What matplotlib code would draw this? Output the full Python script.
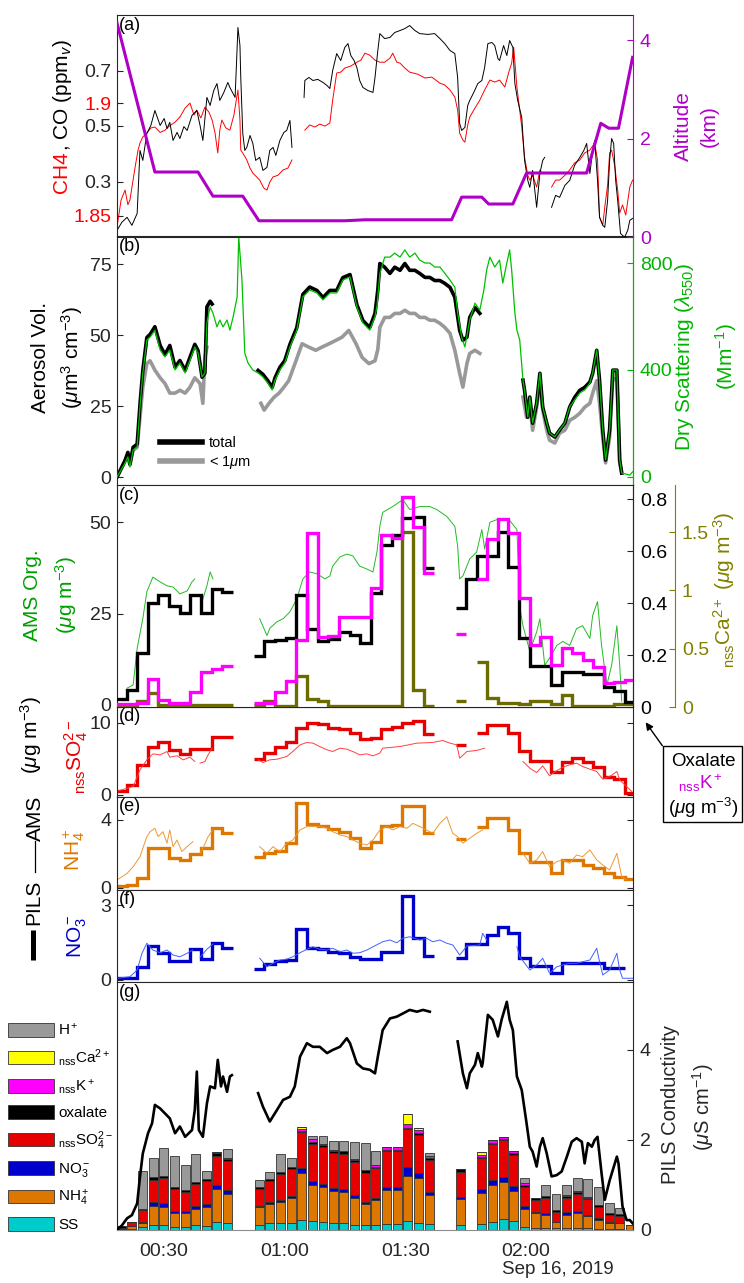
import numpy as np
import matplotlib
matplotlib.use("Agg")
import matplotlib.pyplot as plt
from matplotlib.lines import Line2D
from matplotlib.patches import Rectangle

plt.rcParams.update({
    "font.family": ["Liberation Sans", "DejaVu Sans"],
    "mathtext.fontset": "custom",
    "mathtext.rm": "Liberation Sans",
    "mathtext.it": "Liberation Sans:italic",
    "mathtext.bf": "Liberation Sans:bold",
    "axes.linewidth": 0.8,
})

nan = np.nan

# ---------------- time axis (minutes after 00:00, Sep 16 2019) ----------------
t_start, t_end = 18.5, 146.5
tick_minutes = [30, 60, 90, 120]
tick_labels = ["00:30", "01:00", "01:30", "02:00"]

# ---------------- (a) trace gases and altitude ----------------
co_ppm = np.array([
    [18.5, 0.124], [19.7, 0.153], [21.0, 0.171], [22.2, 0.142], [23.5, 0.185], [24.2, 0.412], [24.9, 0.376],
    [25.9, 0.473], [26.9, 0.502], [27.9, 0.556], [29.2, 0.502], [30.2, 0.527], [30.9, 0.491], [31.6, 0.513],
    [32.4, 0.448], [33.4, 0.477], [34.1, 0.455], [35.1, 0.498], [35.9, 0.484], [37.1, 0.538], [38.3, 0.556],
    [39.1, 0.502], [39.8, 0.448], [40.8, 0.603], [41.6, 0.574], [42.5, 0.628], [43.3, 0.653], [44.0, 0.592],
    [45.0, 0.621], [46.0, 0.657], [46.5, 0.639], [47.8, 0.603], [48.5, 0.855], [49.0, 0.790], [49.2, 0.675],
    [49.7, 0.473], [50.2, 0.412], [50.7, 0.423], [51.5, 0.466], [52.2, 0.437], [52.9, 0.376], [53.9, 0.387],
    [54.7, 0.340], [55.7, 0.351], [56.4, 0.412], [57.2, 0.423], [57.9, 0.394], [58.9, 0.448], [59.9, 0.477],
    [60.6, 0.484], [61.4, 0.520], [61.9, 0.423],
    [nan, nan],
    [64.9, 0.603], [65.1, 0.664], [66.1, 0.675], [67.1, 0.664], [68.3, 0.668], [69.6, 0.657], [70.6, 0.646],
    [71.3, 0.635], [72.0, 0.700], [73.0, 0.761], [74.0, 0.736], [75.0, 0.783], [75.8, 0.797], [76.5, 0.754],
    [77.3, 0.736], [78.0, 0.711], [78.7, 0.664], [79.5, 0.639], [80.7, 0.628], [82.0, 0.621], [82.5, 0.675],
    [83.2, 0.772], [83.7, 0.833], [84.9, 0.815], [86.2, 0.819], [87.4, 0.837], [88.7, 0.844], [89.9, 0.851],
    [91.1, 0.862], [92.4, 0.844], [93.6, 0.833], [95.6, 0.830], [97.3, 0.833], [98.6, 0.815], [99.8, 0.797],
    [101.1, 0.772], [102.3, 0.761], [103.0, 0.675], [103.5, 0.509], [104.0, 0.484], [104.8, 0.495],
    [105.5, 0.574], [106.0, 0.592], [107.0, 0.621], [108.0, 0.653], [109.0, 0.664], [109.7, 0.711],
    [110.5, 0.797], [111.5, 0.801], [112.2, 0.790], [113.0, 0.743], [113.4, 0.736], [114.4, 0.790],
    [115.2, 0.754], [115.9, 0.808], [116.7, 0.783], [117.2, 0.653], [117.9, 0.592], [118.9, 0.531],
    [119.6, 0.376], [120.4, 0.304], [120.9, 0.279], [121.6, 0.340], [122.6, 0.207], [123.4, 0.329],
    [124.1, 0.376], [124.6, 0.387],
    [nan, nan],
    [126.3, 0.207], [127.3, 0.250], [128.3, 0.243], [129.6, 0.286], [130.8, 0.304], [132.0, 0.358],
    [133.3, 0.387], [134.3, 0.412], [135.0, 0.437], [135.8, 0.329], [136.5, 0.412], [137.0, 0.448],
    [137.7, 0.304], [138.2, 0.171], [139.0, 0.142], [139.5, 0.135], [140.2, 0.232], [140.7, 0.376],
    [141.2, 0.455], [141.7, 0.437], [142.2, 0.304], [142.7, 0.232], [143.4, 0.113], [144.4, 0.099],
    [145.2, 0.124], [145.7, 0.160], [146.4, 0.167]])

ch4_ppm = np.array([
    [18.5, 1.845], [19.5, 1.857], [20.5, 1.8615], [21.2, 1.855], [21.7, 1.857], [22.5, 1.866], [23.0, 1.8717],
    [23.7, 1.879], [24.2, 1.8823], [24.9, 1.885], [25.9, 1.8867], [26.9, 1.889], [27.9, 1.8894], [29.2, 1.887],
    [30.4, 1.888], [31.6, 1.890], [32.9, 1.8916], [34.1, 1.8938], [35.4, 1.8978], [36.6, 1.900], [37.6, 1.8947],
    [38.3, 1.8969], [39.3, 1.8934], [40.3, 1.8982], [41.3, 1.896], [42.1, 1.8925], [42.8, 1.887], [43.5, 1.8779],
    [44.0, 1.888], [44.5, 1.8925], [45.5, 1.889], [46.5, 1.888], [47.5, 1.8947], [48.5, 1.9058], [49.0, 1.8925],
    [49.2, 1.8792], [50.0, 1.877], [50.7, 1.8748], [51.5, 1.8712], [52.2, 1.869], [52.9, 1.8677], [53.9, 1.8659],
    [54.9, 1.8624], [55.7, 1.8615], [56.4, 1.865], [57.2, 1.8673], [58.4, 1.868], [59.7, 1.8704], [60.9, 1.8712],
    [61.9, 1.8748],
    [nan, nan],
    [65.1, 1.888], [66.3, 1.8903], [67.6, 1.8894], [68.8, 1.8907], [70.1, 1.8898], [71.3, 1.8912], [72.0, 1.9013],
    [73.0, 1.9133], [74.0, 1.9137], [75.0, 1.9155], [76.5, 1.9164], [78.0, 1.9181], [79.0, 1.919], [80.0, 1.9221],
    [81.2, 1.9212], [82.5, 1.919], [83.7, 1.9181], [84.9, 1.9181], [86.2, 1.9199], [86.9, 1.9221], [87.9, 1.9181],
    [88.7, 1.9177], [89.9, 1.9155], [91.1, 1.9137], [93.1, 1.9128], [94.9, 1.9111], [96.6, 1.9115], [98.6, 1.9088],
    [99.8, 1.908], [101.1, 1.9058], [102.3, 1.9027], [103.0, 1.8969], [103.5, 1.8867], [104.3, 1.8836],
    [104.8, 1.8827], [105.5, 1.8903], [106.0, 1.8938], [107.3, 1.8978], [108.5, 1.9013], [109.7, 1.9058],
    [111.0, 1.9102], [112.2, 1.9093], [113.4, 1.9102], [114.7, 1.9071], [115.7, 1.9137], [116.4, 1.9177],
    [116.9, 1.9248], [117.7, 1.9071], [118.4, 1.8969], [118.9, 1.8894], [119.6, 1.8761], [120.4, 1.868],
    [120.9, 1.8659], [121.6, 1.868], [122.6, 1.8628], [123.4, 1.8704], [123.9, 1.869],
    [nan, nan],
    [126.3, 1.8628], [127.3, 1.8659], [128.3, 1.8659], [129.6, 1.868], [130.8, 1.8704], [132.0, 1.8735],
    [133.3, 1.8748], [134.5, 1.8779], [135.8, 1.8792], [137.0, 1.8823], [137.7, 1.8748], [138.2, 1.8496],
    [139.0, 1.846], [139.5, 1.854], [140.2, 1.8637], [140.7, 1.8779], [141.2, 1.8792], [142.0, 1.8717],
    [142.7, 1.8615], [143.2, 1.8513], [143.9, 1.8549], [144.7, 1.8504], [145.7, 1.8628], [146.4, 1.8659]])

altitude_km = np.array([
    [18.5, 4.35], [27.9, 1.32], [38.6, 1.32], [42.3, 0.83], [49.7, 0.83], [53.7, 0.33], [75.0, 0.33],
    [80.0, 0.35], [101.5, 0.35], [104.0, 0.81], [109.0, 0.81], [110.7, 0.67], [116.7, 0.67], [120.1, 1.30],
    [135.0, 1.30], [138.5, 2.31], [140.5, 2.21], [142.9, 2.21], [146.4, 3.65]])

# ---------------- (b) aerosol volume and dry scattering ----------------
scattering = np.array([
    [18.5, 0], [20.5, 52], [21.2, 75], [21.7, 37], [22.5, 101], [23.5, 112], [24.2, 262], [24.9, 389],
    [25.9, 512], [26.7, 523], [27.9, 549], [29.2, 475], [30.4, 449], [31.6, 475], [32.9, 400], [34.1, 426],
    [35.4, 389], [36.6, 437], [37.8, 486], [38.6, 463], [39.6, 374], [40.3, 389], [40.8, 576], [41.6, 636],
    [42.3, 613], [43.3, 561], [44.0, 587], [44.8, 561], [45.8, 587], [46.5, 549], [47.3, 598], [48.3, 673],
    [48.7, 897], [49.5, 736], [50.2, 463], [51.0, 426], [52.2, 400], [53.5, 389], [54.7, 374], [55.9, 351],
    [57.0, 325], [57.7, 363], [58.9, 400], [60.1, 426], [61.4, 486], [63.1, 549], [64.6, 673], [66.3, 699],
    [68.1, 688], [69.6, 662], [71.3, 688], [73.0, 688], [74.5, 736], [76.3, 748], [78.0, 636], [79.5, 576],
    [81.2, 549], [82.5, 600], [83.0, 640], [83.7, 760], [84.9, 822], [86.2, 822], [87.4, 837], [88.7, 822],
    [89.9, 849], [91.1, 822], [92.4, 837], [93.6, 811], [94.9, 800], [96.1, 800], [97.3, 785], [98.6, 785],
    [99.8, 762], [101.1, 736], [102.3, 710], [103.0, 613], [104.0, 523], [104.8, 486], [106.0, 587],
    [107.3, 650], [108.5, 624], [109.5, 699], [110.2, 774], [111.0, 822], [112.2, 785], [113.4, 811],
    [114.2, 725], [115.2, 800], [115.9, 849], [116.4, 774], [117.2, 613], [117.7, 549], [118.4, 512],
    [119.2, 363], [119.6, 325], [120.4, 224], [120.9, 299], [121.6, 202], [122.6, 277], [123.4, 389],
    [124.1, 262], [125.1, 202], [125.8, 164], [127.1, 150], [128.3, 176], [129.6, 202], [130.8, 262],
    [132.0, 288], [133.3, 314], [134.5, 325], [135.8, 351], [136.5, 389], [137.5, 475], [138.2, 363],
    [139.0, 176], [139.7, 64], [140.7, 176], [141.5, 400], [142.5, 400], [143.2, 64], [143.7, 15],
    [145.7, 7], [146.4, 19]])

volume_total = np.array([
    [18.5, 0], [20.5, 5.9], [21.2, 8.7], [21.7, 4.5], [22.5, 10.5], [23.5, 11.6], [24.2, 25.6], [24.9, 37.6],
    [25.9, 49.2], [26.7, 50.3], [27.9, 53.0], [29.2, 46.4], [30.4, 43.2], [31.6, 46.4], [32.9, 38.7],
    [34.1, 41.1], [35.4, 37.6], [36.6, 42.2], [37.8, 46.8], [38.6, 44.6], [39.6, 35.2], [40.3, 36.6],
    [40.8, 60.0], [41.6, 62.0], [42.1, 61.0],
    [nan, nan],
    [53.5, 37.6], [54.7, 36.2], [55.9, 34.0], [57.0, 31.6], [57.7, 35.0], [58.9, 38.7], [60.1, 41.0],
    [61.4, 46.8], [63.1, 52.7], [64.6, 64.4], [66.3, 67.0], [68.1, 65.8], [69.6, 63.3], [71.3, 65.8],
    [73.0, 65.8], [74.5, 70.3], [76.3, 71.4], [78.0, 60.8], [79.5, 55.2], [81.2, 52.7], [82.5, 57.7],
    [83.2, 66.0], [83.7, 75.3], [84.9, 74.0], [86.2, 71.8], [87.4, 74.0], [88.7, 72.9], [89.9, 75.3],
    [91.1, 72.9], [92.4, 72.9], [93.6, 71.8], [94.9, 70.4], [96.1, 70.4], [97.3, 69.3], [98.6, 69.3],
    [99.8, 68.3], [101.1, 66.9], [102.3, 63.4], [103.5, 51.7], [104.3, 48.2], [105.3, 49.3], [106.0, 56.3],
    [107.3, 59.8], [108.5, 57.7],
    [nan, nan],
    [119.2, 34.2], [119.6, 30.6], [120.4, 21.1], [120.9, 28.2], [121.6, 19.0], [122.6, 26.0], [123.4, 36.6],
    [124.1, 24.7], [125.1, 19.0], [125.8, 15.5], [127.1, 14.1], [128.3, 16.6], [129.6, 19.0], [130.8, 24.7],
    [132.0, 28.0], [133.3, 30.6], [134.5, 31.6], [135.8, 33.5], [136.5, 36.6], [137.5, 44.7], [138.2, 34.2],
    [139.0, 16.6], [139.7, 6.0], [140.7, 16.6], [141.5, 37.7], [142.5, 37.7], [143.2, 6.0], [143.7, 1.4]])

volume_sub1um = np.array([
    [18.5, 0], [20.5, 5.5], [21.2, 8.0], [21.7, 4.3], [22.5, 9.5], [23.5, 10.5], [24.2, 21.0], [24.9, 31.7],
    [25.9, 40.0], [26.7, 41.0], [27.9, 37.7], [29.2, 35.0], [30.4, 33.0], [31.6, 29.6], [32.9, 29.6],
    [34.1, 30.6], [35.4, 29.6], [36.6, 31.7], [37.8, 35.0], [39.1, 33.0], [39.8, 26.0], [40.3, 42.0],
    [40.8, 45.8],
    [nan, nan],
    [54.2, 26.0], [55.0, 23.6], [56.2, 26.0], [57.5, 28.2], [58.7, 29.6], [59.9, 31.7], [61.1, 34.0],
    [62.9, 41.0], [64.4, 47.0], [66.1, 45.8], [67.8, 44.7], [69.3, 45.8], [71.1, 47.0], [72.8, 48.2],
    [74.3, 49.3], [76.0, 51.7], [77.8, 47.0], [79.3, 42.2], [81.0, 40.0], [82.5, 41.0], [83.2, 45.0],
    [83.7, 52.8], [84.9, 56.3], [86.2, 56.3], [87.4, 57.7], [88.7, 57.7], [89.9, 58.8], [91.1, 57.7],
    [92.4, 57.7], [93.6, 56.3], [94.9, 56.3], [96.1, 55.3], [97.3, 55.3], [98.6, 54.2], [99.8, 52.8],
    [101.1, 50.7], [102.3, 44.7], [103.5, 36.6], [104.3, 31.7], [105.3, 40.0], [106.0, 43.6], [107.3, 44.7],
    [108.5, 43.6],
    [nan, nan],
    [119.2, 28.2], [120.1, 21.0], [120.9, 26.0], [121.6, 16.5], [122.6, 24.6], [123.4, 34.0], [124.1, 23.6],
    [125.1, 16.5], [125.8, 13.0], [127.1, 12.0], [128.3, 15.5], [129.6, 16.5], [130.8, 20.0], [132.0, 21.0],
    [133.3, 22.5], [134.5, 24.6], [135.8, 26.0], [136.5, 29.6], [137.5, 34.0], [138.2, 26.0], [139.0, 14.0],
    [139.7, 5.0], [140.7, 14.0], [141.5, 35.0], [142.5, 34.0], [143.2, 5.0], [143.7, 1.4]])

# ---------------- (c)-(f) AMS mass concentrations ----------------
ams_org = np.array([
    [21.0, 4.6], [22.5, 5.5], [23.5, 15.5], [24.9, 23.6], [25.9, 31.0], [27.4, 35.0], [29.2, 33.7],
    [30.9, 32.6], [32.4, 32.3], [34.1, 30.4], [35.9, 31.2], [37.1, 33.7], [37.8, 34.5],
    [nan, nan],
    [39.6, 28.3], [40.8, 32.6], [41.6, 36.4], [42.3, 34.5],
    [nan, nan],
    [53.9, 23.6], [55.7, 19.0], [56.4, 21.0], [58.2, 22.8], [59.7, 23.6], [61.4, 25.5], [63.1, 29.0],
    [64.6, 34.5], [66.3, 36.4], [68.1, 35.9], [70.1, 34.5], [71.3, 35.3], [72.0, 38.0], [73.8, 40.5],
    [75.5, 41.3], [77.0, 40.8], [78.7, 38.0], [80.5, 37.2], [82.0, 36.4], [83.0, 42.0], [83.7, 48.9],
    [84.4, 52.7], [86.9, 54.3], [89.4, 56.2], [91.1, 53.5], [93.6, 54.3], [96.1, 54.3], [97.8, 53.5],
    [100.3, 51.6], [102.3, 48.9], [103.0, 43.5], [103.5, 34.5], [104.3, 35.3], [106.0, 40.0], [107.7, 41.8],
    [109.0, 48.0], [109.7, 42.7], [111.0, 50.0], [113.4, 51.0], [115.9, 50.5], [117.7, 48.0], [118.4, 27.0],
    [119.2, 21.7], [120.9, 14.7], [122.6, 20.0], [123.4, 23.6], [124.6, 10.9], [125.8, 12.8], [127.6, 16.3],
    [129.1, 17.4], [130.8, 16.3], [132.5, 20.9], [134.0, 21.7], [135.8, 18.2], [136.5, 24.5], [137.7, 28.3],
    [138.7, 16.3], [140.0, 5.4], [141.2, 10.9], [142.5, 21.7], [143.2, 10.9], [143.7, 1.1]])

ams_so4 = np.array([
    [18.5, 0.5], [22.5, 1.16], [24.2, 3.47], [25.9, 4.86], [27.4, 5.69], [29.2, 5.55], [30.9, 6.02],
    [31.6, 5.23], [33.4, 5.42], [34.9, 4.86], [36.6, 5.23], [37.8, 4.63],
    [nan, nan],
    [39.1, 4.40], [40.3, 4.63], [41.1, 5.55], [42.1, 6.48],
    [nan, nan],
    [53.5, 4.86], [54.7, 4.49], [56.4, 4.86], [58.2, 4.95], [60.6, 5.32], [62.1, 6.02], [63.9, 6.94],
    [65.6, 7.27], [67.1, 7.18], [68.8, 6.71], [70.6, 6.25], [72.0, 6.02], [73.8, 6.48], [75.5, 6.34],
    [77.0, 6.02], [78.7, 5.55], [80.5, 5.69], [82.0, 5.42], [83.7, 5.79], [84.4, 6.48], [88.7, 6.71],
    [92.9, 7.18], [96.8, 7.27], [99.3, 7.55], [101.1, 7.18], [102.8, 6.94], [103.5, 5.09], [105.3, 6.02],
    [107.7, 6.16], [109.7, 6.48],
    [nan, nan],
    [119.2, 4.63], [120.9, 3.70], [122.6, 3.10], [124.1, 4.03], [125.8, 2.64], [127.6, 3.38], [129.1, 3.84],
    [130.8, 4.17], [132.5, 4.40], [134.0, 3.94], [135.8, 3.56], [137.5, 3.24], [139.0, 2.18], [140.7, 2.55],
    [142.5, 3.24], [143.2, 2.08], [144.9, 1.16], [146.2, 0.46]])

ams_nh4 = np.array([
    [18.5, 0.47], [21.0, 0.86], [22.5, 1.25], [24.2, 1.84], [25.9, 3.02], [26.7, 3.31], [27.9, 3.51],
    [28.7, 3.02], [29.9, 3.31], [30.9, 2.63], [31.6, 3.41], [32.4, 2.43], [33.4, 2.82], [34.6, 2.14],
    [35.9, 2.43], [37.3, 2.72],
    [nan, nan],
    [39.1, 2.04], [39.8, 2.33], [41.1, 3.02], [42.3, 3.41],
    [nan, nan],
    [53.9, 2.43], [55.7, 2.04], [57.2, 2.43], [58.9, 2.14], [60.6, 2.63], [62.1, 2.82], [63.9, 3.41],
    [65.6, 3.61], [67.1, 3.61], [68.8, 3.61], [70.6, 3.51], [72.0, 3.31], [73.8, 3.12], [75.5, 3.02],
    [77.0, 2.82], [78.7, 2.63], [80.5, 2.53], [82.0, 2.82], [83.7, 3.41], [85.4, 3.61], [86.9, 3.41],
    [88.7, 3.61], [90.4, 3.51], [91.9, 3.80], [93.6, 3.61], [95.3, 3.41], [96.8, 3.21], [98.6, 3.80],
    [100.3, 4.19], [101.8, 3.21], [103.0, 3.02], [104.3, 2.63], [106.0, 2.92], [107.7, 3.21], [109.2, 3.41],
    [nan, nan],
    [119.2, 2.04], [120.9, 1.45], [122.6, 1.65], [124.1, 2.14], [125.8, 1.25], [127.6, 1.55], [129.1, 1.65],
    [130.8, 1.45], [132.5, 1.94], [134.0, 1.84], [135.8, 2.24], [137.5, 1.65], [139.0, 1.35], [140.7, 1.06],
    [142.5, 2.04], [143.7, 0.67], [144.9, 0.47]])

ams_no3 = np.array([
    [18.5, 0.07], [21.7, 0.13], [23.5, 0.40], [24.7, 1.07], [25.9, 1.47], [27.4, 1.20], [29.2, 1.09],
    [30.9, 1.20], [32.4, 1.00], [34.1, 0.93], [35.9, 1.07], [37.3, 1.20],
    [nan, nan],
    [39.1, 0.91], [40.8, 1.23], [42.3, 1.44],
    [nan, nan],
    [53.9, 0.87], [55.7, 0.53], [57.2, 0.67], [58.9, 0.80], [60.6, 0.83], [62.1, 0.93], [63.9, 1.09],
    [65.6, 1.23], [67.1, 1.33], [68.8, 1.23], [70.6, 1.20], [72.0, 1.27], [73.8, 1.13], [75.5, 1.20],
    [77.0, 1.07], [78.7, 1.09], [80.5, 1.20], [82.0, 1.33], [83.7, 1.47], [84.4, 1.53], [86.2, 1.60],
    [87.9, 1.49], [89.4, 1.67], [91.1, 1.73], [93.6, 1.60], [95.3, 1.67], [96.8, 1.53], [98.6, 1.60],
    [100.3, 1.47], [101.8, 1.40], [103.5, 1.00], [105.3, 1.36], [108.5, 1.40], [109.2, 1.87], [110.2, 1.60],
    [nan, nan],
    [117.7, 1.33], [118.4, 0.93], [120.9, 0.40], [122.6, 0.60], [124.1, 0.87], [125.8, 0.27], [127.6, 0.53],
    [129.1, 0.60], [130.8, 0.67], [132.5, 0.67], [134.0, 0.73], [135.8, 0.80], [137.5, 1.27], [138.2, 0.73],
    [139.0, 0.20], [140.7, 0.40], [142.5, 1.07], [143.2, 0.40], [143.9, 0.07], [146.4, 0.07]])

# ---------------- PILS samples (one per collection interval) ----------------
pils_time = [19.6, 22.2, 24.9, 27.5, 30.1, 32.8, 35.4, 38.0, 40.6, 43.3, 45.9, 48.5, 51.2, 53.8, 56.4,
             59.1, 61.7, 64.3, 67.0, 69.6, 72.2, 74.8, 77.5, 80.1, 82.7, 85.4, 88.0, 90.6, 93.2, 95.9,
             98.5, 101.1, 103.8, 106.4, 109.0, 111.6, 114.3, 116.9, 119.5, 122.2, 124.8, 127.4, 130.1,
             132.7, 135.3, 137.9, 140.6, 143.2, 145.8]
pils_halfwidth = 1.315

# mass concentrations, ug m-3
pils_oxalate = [0.03, 0.065, 0.206, 0.399, 0.431, 0.388, 0.363, 0.431, 0.363, 0.453, 0.444, nan, nan,
                0.196, 0.254, 0.258, 0.264, 0.431, 0.299, 0.254, 0.26, 0.29, 0.277, 0.247, 0.437, 0.623,
                0.66, 0.726, 0.73, 0.533, nan, nan, 0.382, 0.491, 0.581, 0.581, 0.674, 0.537, 0.264,
                0.159, 0.159, 0.085, 0.136, 0.136, 0.127, 0.127, 0.078, 0.063, 0.02]
pils_k = [0.01, 0.01, 0.015, 0.106, 0.027, 0.015, 0.015, 0.058, 0.136, 0.146, 0.158, nan, nan,
          0.015, 0.015, 0.059, 0.10, 0.258, 0.668, 0.27, 0.275, 0.345, 0.347, 0.347, 0.456, 0.661,
          0.65, 0.808, 0.692, 0.515, nan, nan, 0.28, nan, 0.491, 0.645, 0.722, 0.67, 0.418,
          0.238, 0.27, 0.16, 0.226, 0.206, 0.18, 0.155, 0.091, 0.097, 0.104]
pils_ca = [0.0, 0.01, 0.054, 0.12, 0.017, 0.017, 0.017, 0.017, 0.017, 0.02, 0.02, nan, nan,
           0.017, 0.054, 0.01, 0.01, 0.27, 0.068, 0.055, 0.01, 0.01, 0.01, 0.01, 0.01, 0.01,
           0.01, 1.496, 0.145, 0.01, nan, nan, 0.054, nan, 0.385, 0.077, 0.035, 0.035, 0.03,
           0.05, 0.05, 0.03, 0.10, 0.01, 0.01, 0.01, 0.01, 0.03, 0.03]
pils_so4 = [0.6, 1.39, 4.17, 6.7, 7.27, 6.16, 5.7, 6.39, 6.39, 8.0, 7.99, nan, nan,
            4.95, 5.88, 6.7, 7.27, 9.26, 9.95, 9.86, 9.35, 9.12, 8.56, 7.73, 7.87, 9.12,
            9.49, 10.04, 10.3, 8.47, nan, nan, 6.94, nan, 8.56, 9.72, 9.72, 8.56, 6.02,
            4.72, 4.72, 3.24, 4.63, 5.09, 4.63, 3.84, 2.41, 2.18, 0.32]
pils_nh4 = [0.1, 0.15, 0.59, 2.37, 2.37, 1.75, 1.65, 2.0, 2.33, 3.51, 3.25, nan, nan,
            1.84, 2.08, 2.2, 2.63, 4.98, 3.76, 3.65, 3.47, 3.27, 2.92, 2.33, 2.69, 3.65,
            3.71, 4.82, 4.82, 3.25, nan, nan, 2.86, nan, 3.57, 4.1, 4.1, 3.41, 2.08,
            1.55, 1.55, 0.86, 1.65, 1.65, 1.35, 1.16, 0.86, 0.67, 0.5]
pils_no3 = [0.07, 0.07, 0.51, 1.36, 1.07, 0.77, 0.77, 1.23, 0.83, 1.49, 1.29, nan, nan,
            0.44, 0.64, 0.77, 0.80, 2.03, 1.27, 1.23, 1.13, 1.07, 0.91, 0.83, 0.83, 1.13,
            1.13, 3.36, 1.67, 0.97, nan, nan, 0.89, 1.44, 1.44, 1.80, 2.11, 1.87, 0.87,
            0.56, 0.56, 0.27, 0.67, 0.67, 0.68, 0.68, 0.47, 0.49, nan]

# conductivity contributions per ion, uS cm-1 (stacked bars)
cond_ss = [0.01, 0.03, 0.06, 0.11, 0.10, 0.06, 0.06, 0.10, 0.09, 0.185, 0.16, nan, nan,
           0.11, 0.15, 0.16, 0.16, 0.22, 0.20, 0.185, 0.16, 0.15, 0.11, 0.11, 0.11, 0.13,
           0.13, 0.21, 0.16, 0.13, nan, nan, 0.11, nan, 0.13, 0.185, 0.24, 0.20, 0.074,
           0.04, 0.04, 0.04, 0.04, 0.04, 0.04, 0.02, 0.015, 0.015, 0.0]
cond_nh4 = [0.02, 0.05, 0.09, 0.43, 0.42, 0.31, 0.31, 0.36, 0.43, 0.72, 0.65, nan, nan,
            0.39, 0.43, 0.47, 0.54, 1.05, 0.79, 0.76, 0.71, 0.69, 0.61, 0.47, 0.55, 0.76,
            0.76, 1.00, 0.99, 0.65, nan, nan, 0.58, nan, 0.70, 0.82, 0.83, 0.67, 0.39,
            0.33, 0.30, 0.13, 0.30, 0.33, 0.26, 0.20, 0.15, 0.13, 0.11]
cond_no3 = [0.0, 0.01, 0.02, 0.074, 0.074, 0.06, 0.045, 0.074, 0.06, 0.09, 0.074, nan, nan,
            0.03, 0.045, 0.045, 0.05, 0.11, 0.09, 0.074, 0.074, 0.067, 0.06, 0.045, 0.05, 0.067,
            0.067, 0.185, 0.12, 0.074, nan, nan, 0.045, nan, 0.08, 0.10, 0.11, 0.10, 0.06,
            0.02, 0.04, 0.01, 0.05, 0.05, 0.04, 0.04, 0.02, 0.01, 0.0]
cond_so4 = [0.02, 0.08, 0.28, 0.50, 0.56, 0.48, 0.43, 0.49, 0.50, 0.65, 0.65, nan, nan,
            0.39, 0.47, 0.58, 0.61, 0.79, 0.84, 0.82, 0.77, 0.79, 0.72, 0.64, 0.67, 0.79,
            0.79, 0.84, 0.85, 0.70, nan, nan, 0.56, nan, 0.68, 0.80, 0.81, 0.69, 0.44,
            0.27, 0.33, 0.21, 0.32, 0.38, 0.35, 0.26, 0.15, 0.16, 0.0]
cond_oxalate = [0.03, 0.01, 0.02, 0.06, 0.04, 0.04, 0.04, 0.045, 0.05, 0.074, 0.045, nan, nan,
                0.04, 0.04, 0.025, 0.04, 0.04, 0.03, 0.05, 0.045, 0.05, 0.05, 0.06, 0.025, 0.04,
                0.04, 0.04, 0.03, 0.04, nan, nan, 0.05, nan, 0.04, 0.03, 0.03, 0.04, 0.04,
                0.04, 0.04, 0.05, 0.04, 0.04, 0.025, 0.04, 0.04, 0.03, 0.0]
cond_k = [0, 0, 0, 0, 0, 0, 0, 0, 0, 0.01, 0.01, nan, nan,
          0, 0, 0, 0, 0.03, 0.07, 0.02, 0.01, 0.01, 0.02, 0.01, 0.04, 0.05,
          0.05, 0.08, 0.067, 0.04, nan, nan, 0.0, nan, 0.03, 0.06, 0.045, 0.06, 0.05,
          0, 0, 0, 0.01, 0.02, 0.01, 0.0, 0.01, 0.0, 0]
cond_ca = [0, 0, 0, 0, 0, 0, 0, 0, 0, 0, 0, nan, nan,
           0, 0, 0, 0, 0.04, 0, 0, 0, 0, 0, 0, 0, 0,
           0, 0.22, 0.04, 0, nan, nan, 0, nan, 0.07, 0, 0, 0, 0,
           0, 0, 0, 0.02, 0, 0, 0, 0, 0, 0]
cond_h = [0.0, 0.0, 0.83, 0.42, 0.63, 0.70, 0.57, 0.63, 0.19, 0.0, 0.21, nan, nan,
          0.16, 0.15, 0.41, 0.19, 0.0, 0.06, 0.18, 0.21, 0.21, 0.38, 0.59, 0.30, 0.0,
          0.0, 0.0, 0.0, 0.074, nan, nan, 0.0, nan, 0.0, 0.0, 0.0, 0.0, 0.10,
          0.0, 0.24, 0.36, 0.22, 0.30, 0.41, 0.39, 0.22, 0.14, 0.0]

pils_conductivity = np.array([
    [18.5, 0.01], [19.7, 0.10], [21.0, 0.26], [22.2, 0.33], [23.5, 0.59], [24.2, 1.18], [24.9, 1.70],
    [26.2, 2.15], [27.2, 2.37], [27.9, 2.78], [29.2, 2.70], [30.4, 2.59], [31.6, 2.48], [32.9, 2.15],
    [34.1, 2.30], [35.4, 2.07], [37.1, 2.22], [37.8, 2.67], [38.3, 3.52], [38.8, 2.22], [39.8, 2.07],
    [40.8, 2.81], [41.6, 3.19], [42.8, 3.15], [43.5, 3.78], [44.3, 3.19], [44.8, 3.41], [45.8, 3.07],
    [46.5, 3.41], [47.0, 3.44],
    [nan, nan],
    [53.5, 3.04], [54.7, 2.74], [56.4, 2.41], [58.2, 2.67], [59.7, 2.89], [61.4, 2.96], [62.6, 3.19],
    [63.9, 3.85], [65.6, 4.15], [67.1, 4.07], [68.8, 4.07], [70.6, 3.93], [72.0, 4.00], [73.8, 4.07],
    [75.5, 4.26], [76.3, 4.15], [78.0, 3.70], [79.5, 3.59], [81.2, 3.56], [82.5, 3.48], [83.2, 3.85],
    [84.4, 4.44], [86.2, 4.70], [87.9, 4.74], [89.4, 4.81], [91.1, 4.89], [92.9, 4.85], [94.4, 4.89],
    [96.1, 4.85],
    [nan, nan],
    [103.0, 4.19], [104.3, 3.48], [105.3, 3.15], [106.0, 3.48], [107.3, 3.67], [108.0, 3.93], [109.0, 3.63],
    [109.2, 3.70], [110.5, 4.78], [111.7, 4.67], [113.0, 4.30], [113.9, 4.67], [115.2, 5.07], [115.9, 4.67],
    [116.7, 4.44], [117.7, 3.41], [118.9, 3.11], [120.1, 2.37], [120.9, 1.85], [121.6, 1.74], [122.6, 1.41],
    [123.4, 1.85], [124.1, 2.04], [125.1, 1.70], [126.3, 1.19], [127.6, 1.22], [128.8, 1.30], [130.1, 1.63],
    [131.3, 1.96], [132.5, 2.04], [133.8, 1.96], [134.5, 1.48], [135.3, 1.93], [136.3, 1.85], [137.0, 2.00],
    [137.7, 2.07], [138.7, 1.26], [139.5, 0.67], [140.7, 1.10], [142.5, 1.63], [142.9, 1.48], [143.9, 0.52],
    [144.9, 0.22], [145.7, 0.22], [146.4, 0.15]])

# ---------------- colours ----------------
PURPLE = "#b000c8"
SCAT_GREEN = "#00b400"
ORG_GREEN = "#00a000"
MAGENTA = "#ff00ff"
OLIVE = "#6b6b00"
OLIVE_TXT = "#808000"
RED = "#e60000"
ORANGE = "#dd7700"
BLUE = "#0000cc"
CYAN = "#00cccc"
GREY = "#999999"
YELLOW = "#ffff00"
FRAME = "#262626"

W, H = 744, 1283
fig = plt.figure(figsize=(W / 100, H / 100), dpi=100)


def px_box(top, bottom, left=117, right=633):
    return [left / W, 1 - bottom / H, (right - left) / W, (bottom - top) / H]


def fx(x):
    return x / W


def fy(y):
    return 1 - y / H


TICK = 14


def style(ax, right_color=FRAME):
    ax.set_xlim(t_start, t_end)
    ax.set_xticks(tick_minutes)
    ax.tick_params(axis="x", length=0, labelbottom=False)
    ax.tick_params(axis="y", direction="in", length=4, width=0.8, labelsize=TICK, pad=4, colors=FRAME)
    for s in ax.spines.values():
        s.set_color(FRAME)
        s.set_linewidth(0.8)
    ax.spines["right"].set_color(right_color)


def twin(ax, color):
    t = ax.twinx()
    t.set_xlim(t_start, t_end)
    for k in ("left", "top", "bottom"):
        t.spines[k].set_visible(False)
    t.spines["right"].set_color(color)
    t.spines["right"].set_linewidth(0.8)
    t.tick_params(axis="y", direction="in", length=4, width=0.8, labelsize=TICK, pad=5,
                  colors=color, labelcolor=color)
    t.patch.set_visible(False)
    return t


def pils_steps(ax, values, **kw):
    t = np.asarray(pils_time)
    v = np.asarray(values, dtype=float)
    idx = np.flatnonzero(~np.isnan(v))
    runs = np.split(idx, np.where(np.diff(idx) > 1)[0] + 1)
    for r in runs:
        if len(r) == 0:
            continue
        edges = np.append(t[r] - pils_halfwidth, t[r[-1]] + pils_halfwidth)
        ax.stairs(v[r], edges, baseline=None, **kw)


def panel_label(ax, s):
    ax.text(0.004, 0.99, s, transform=ax.transAxes, ha="left", va="top", fontsize=13, color="k", zorder=10)


def vtext(x, y, s, ha="center", **kw):
    fig.text(fx(x), fy(y), s, rotation=90, ha=ha, va="center", rotation_mode="anchor", **kw)


# ---------------- panel (a) ----------------
ax_a = fig.add_axes(px_box(15, 237))
style(ax_a)
ax_ch4 = ax_a.twinx()
ax_alt = twin(ax_a, PURPLE)
ax_ch4.set_zorder(1)
ax_a.set_zorder(2)
ax_alt.set_zorder(3)
ax_a.patch.set_visible(False)
for s in ax_ch4.spines.values():
    s.set_visible(False)
ax_ch4.yaxis.set_ticks_position("left")
ax_ch4.tick_params(axis="y", direction="in", length=4, width=0.8, labelsize=TICK, pad=4,
                   colors=FRAME, labelcolor="#ff0000")
ax_ch4.set_xlim(t_start, t_end)
ax_ch4.tick_params(axis="x", length=0, labelbottom=False)

ax_ch4.plot(ch4_ppm[:, 0], ch4_ppm[:, 1], color="#ff0000", lw=0.7)
ax_a.plot(co_ppm[:, 0], co_ppm[:, 1], color="k", lw=0.7)
ax_alt.plot(altitude_km[:, 0], altitude_km[:, 1], color=PURPLE, lw=2.2)

ax_a.set_ylim(0.1, 0.9)
ax_a.set_yticks([0.3, 0.5, 0.7])
ax_a.spines["right"].set_visible(False)
ax_ch4.set_ylim(1.8407, 1.939)
ax_ch4.set_yticks([1.85, 1.9])
ax_ch4.set_yticklabels(["1.85", "1.9"])
ax_alt.set_ylim(0, 4.51)
ax_alt.set_yticks([0, 2, 4])
panel_label(ax_a, "(a)")

vtext(62, 151, "CH4", ha="right", color="#ff0000", fontsize=15)
vtext(62, 151, ", CO (ppm$_v$)", ha="left", color="k", fontsize=15)
vtext(683, 126, "Altitude", color=PURPLE, fontsize=15)
vtext(709, 126, "(km)", color=PURPLE, fontsize=15)

# ---------------- panel (b) ----------------
ax_b = fig.add_axes(px_box(236, 485))
style(ax_b, SCAT_GREEN)
ax_b.spines["bottom"].set_color("#8c8c8c")
ax_sc = twin(ax_b, SCAT_GREEN)
ax_b.plot(volume_sub1um[:, 0], volume_sub1um[:, 1], color=GREY, lw=2.6)
ax_b.plot(volume_total[:, 0], volume_total[:, 1], color="k", lw=2.6)
ax_sc.plot(scattering[:, 0], scattering[:, 1], color="#00c000", lw=0.9)
ax_b.set_ylim(-2.8, 85)
ax_b.set_yticks([0, 25, 50, 75])
ax_sc.set_ylim(-30, 901)
ax_sc.set_yticks([0, 400, 800])
panel_label(ax_b, "(b)")
leg_b = ax_b.legend([Line2D([], [], color="k", lw=4), Line2D([], [], color=GREY, lw=4)],
                    ["total", "< 1$\\mu$m"], loc="upper left",
                    bbox_to_anchor=(fx(160), fy(436)), bbox_transform=fig.transFigure,
                    frameon=False, fontsize=10.5, handlelength=2.9, handletextpad=0.45,
                    labelspacing=0.25, borderpad=0, borderaxespad=0)

vtext(40, 357, "Aerosol Vol.", color="k", fontsize=15)
vtext(72, 357, "($\\mu$m$^3$ cm$^{-3}$)", color="k", fontsize=15)
vtext(685, 357, "Dry Scattering ($\\lambda_{550}$)", color=SCAT_GREEN, fontsize=15)
vtext(726, 357, "(Mm$^{-1}$)", color=SCAT_GREEN, fontsize=15)

# ---------------- panel (c) ----------------
ax_c = fig.add_axes(px_box(485, 707))
style(ax_c)
ax_ca = twin(ax_c, OLIVE_TXT)
ax_ox = twin(ax_c, FRAME)
ax_ca.spines["right"].set_position(("outward", 42 * 0.72))
ax_ca.tick_params(axis="y", colors=OLIVE_TXT, labelcolor=OLIVE_TXT)
ax_ox.tick_params(axis="y", colors=FRAME, labelcolor="k")
ax_c.set_zorder(1)
ax_ca.set_zorder(2)
ax_ox.set_zorder(3)

ax_c.plot(ams_org[:, 0], ams_org[:, 1], color="#22bb22", lw=0.7)
pils_steps(ax_ca, pils_ca, color=OLIVE, lw=2.4)
pils_steps(ax_ox, pils_oxalate, color="k", lw=2.4)
pils_steps(ax_ox, pils_k, color=MAGENTA, lw=2.4)
ax_c.set_ylim(-0.55, 60.2)
ax_c.set_yticks([0, 25, 50])
ax_ox.set_ylim(0, 0.854)
ax_ox.set_yticks([0, 0.2, 0.4, 0.6, 0.8])
ax_ox.set_yticklabels(["0", "0.2", "0.4", "0.6", "0.8"])
ax_ca.set_ylim(0, 1.903)
ax_ca.set_yticks([0, 0.5, 1, 1.5])
ax_ca.set_yticklabels(["0", "0.5", "1", "1.5"])
panel_label(ax_c, "(c)")

vtext(33, 595, "AMS Org.", color=ORG_GREEN, fontsize=15)
vtext(66, 595, "($\\mu$g m$^{-3}$)", color=ORG_GREEN, fontsize=15)
vtext(724, 590, "$_{\\rm nss}$Ca$^{2+}$ ($\\mu$g m$^{-3}$)", color=OLIVE_TXT, fontsize=15)

# ---------------- panels (d), (e), (f) ----------------
ax_d = fig.add_axes(px_box(707, 797))
style(ax_d)
ax_d.tick_params(axis="y", right=True)
pils_steps(ax_d, pils_so4, color=RED, lw=2.4)
ax_d.plot(ams_so4[:, 0], ams_so4[:, 1], color="#ff4040", lw=0.7)
ax_d.set_ylim(-0.3, 12.2)
ax_d.set_yticks([0, 10])
panel_label(ax_d, "(d)")

ax_e = fig.add_axes(px_box(797, 890))
style(ax_e)
ax_e.tick_params(axis="y", right=True)
pils_steps(ax_e, pils_nh4, color=ORANGE, lw=2.4)
ax_e.plot(ams_nh4[:, 0], ams_nh4[:, 1], color="#ee9933", lw=0.7)
ax_e.set_ylim(-0.12, 5.35)
ax_e.set_yticks([0, 4])
panel_label(ax_e, "(e)")

ax_f = fig.add_axes(px_box(890, 982))
style(ax_f)
ax_f.spines["bottom"].set_color("#8c8c8c")
ax_f.tick_params(axis="y", right=True)
pils_steps(ax_f, pils_no3, color=BLUE, lw=2.4)
ax_f.plot(ams_no3[:, 0], ams_no3[:, 1], color="#4060ff", lw=0.7)
ax_f.set_ylim(-0.08, 3.6)
ax_f.set_yticks([0, 3])
panel_label(ax_f, "(f)")

vtext(31, 735, "($\\mu$g m$^{-3}$)", color="k", fontsize=15)
vtext(76, 757, "$_{\\rm nss}$SO$_4^{2-}$", color=RED, fontsize=15)
vtext(74, 850, "NH$_4^+$", color=ORANGE, fontsize=15)
vtext(77, 936, "NO$_3^-$", color=BLUE, fontsize=15)
vtext(35, 818, "AMS", color="k", fontsize=15)
vtext(34, 902, "PILS", color="k", fontsize=15)
fig.add_artist(Line2D([fx(35), fx(35)], [fy(872), fy(841)], color="k", lw=0.9))
fig.add_artist(Line2D([fx(33), fx(33)], [fy(960), fy(930)], color="k", lw=3.6, solid_capstyle="butt"))

# oxalate / K+ axis note
fig.add_artist(Rectangle((fx(663), fy(822)), (742 - 663) / W, (822 - 746) / H,
                         transform=fig.transFigure, fill=False, ec="k", lw=1.0))
fig.text(fx(703), fy(762), "Oxalate", ha="center", va="center", fontsize=13.5, color="k")
fig.text(fx(701), fy(783), "$_{\\rm nss}$K$^+$", ha="center", va="center", fontsize=13.5, color="#cc00dd")
fig.text(fx(703), fy(808), "($\\mu$g m$^{-3}$)", ha="center", va="center", fontsize=13.5, color="k")
ax_ox.annotate("", xy=(fx(644), fy(720)), xycoords="figure fraction",
               xytext=(fx(664), fy(748)), textcoords="figure fraction",
               arrowprops=dict(arrowstyle="-|>", color="k", lw=1.0, mutation_scale=11),
               annotation_clip=False)

# ---------------- panel (g) ----------------
ax_g = fig.add_axes(px_box(982, 1230))
style(ax_g)
ax_g.spines["bottom"].set_color("#8c8c8c")
ax_g.yaxis.tick_right()
ax_g.tick_params(axis="y", direction="in", length=4, labelsize=TICK, pad=5, colors=FRAME)
ax_g.set_xticks(tick_minutes)
ax_g.set_xticklabels(tick_labels)
ax_g.tick_params(axis="x", length=0, labelbottom=True, labelsize=TICK, pad=9, colors=FRAME)

components = [
    (cond_ss, CYAN, "SS"),
    (cond_nh4, ORANGE, "NH$_4^+$"),
    (cond_no3, BLUE, "NO$_3^-$"),
    (cond_so4, RED, "$_{\\rm nss}$SO$_4^{2-}$"),
    (cond_oxalate, "k", "oxalate"),
    (cond_k, MAGENTA, "$_{\\rm nss}$K$^+$"),
    (cond_ca, YELLOW, "$_{\\rm nss}$Ca$^{2+}$"),
    (cond_h, GREY, "H$^+$"),
]
bottom = np.zeros(len(pils_time))
handles = []
for vals, col, lab in components:
    v = np.asarray(vals, dtype=float)
    bc = ax_g.bar(pils_time, v, width=2.23, bottom=bottom, color=col, edgecolor="#333333",
                  linewidth=0.6, label=lab, zorder=2)
    handles.append(bc)
    bottom = bottom + v
ax_g.plot(pils_conductivity[:, 0], pils_conductivity[:, 1], color="k", lw=1.9, zorder=3)
ax_g.set_ylim(0, 5.51)
ax_g.set_yticks([0, 2, 4])
panel_label(ax_g, "(g)")

fig.legend(handles[::-1], [c[2] for c in components][::-1], loc="upper left",
           bbox_to_anchor=(fx(8), fy(1022)), frameon=False, fontsize=11,
           handlelength=3.0, handleheight=1.0, handletextpad=0.3, labelspacing=0.6,
           borderpad=0, borderaxespad=0)

vtext(670, 1105, "PILS Conductivity", color=FRAME, fontsize=14.5)
vtext(703, 1107, "($\\mu$S cm$^{-1}$)", color=FRAME, fontsize=14.5)
fig.text(fx(558), fy(1270), "Sep 16, 2019", ha="center", va="center", fontsize=13.5, color=FRAME)

fig.savefig("out.png", dpi=100)
